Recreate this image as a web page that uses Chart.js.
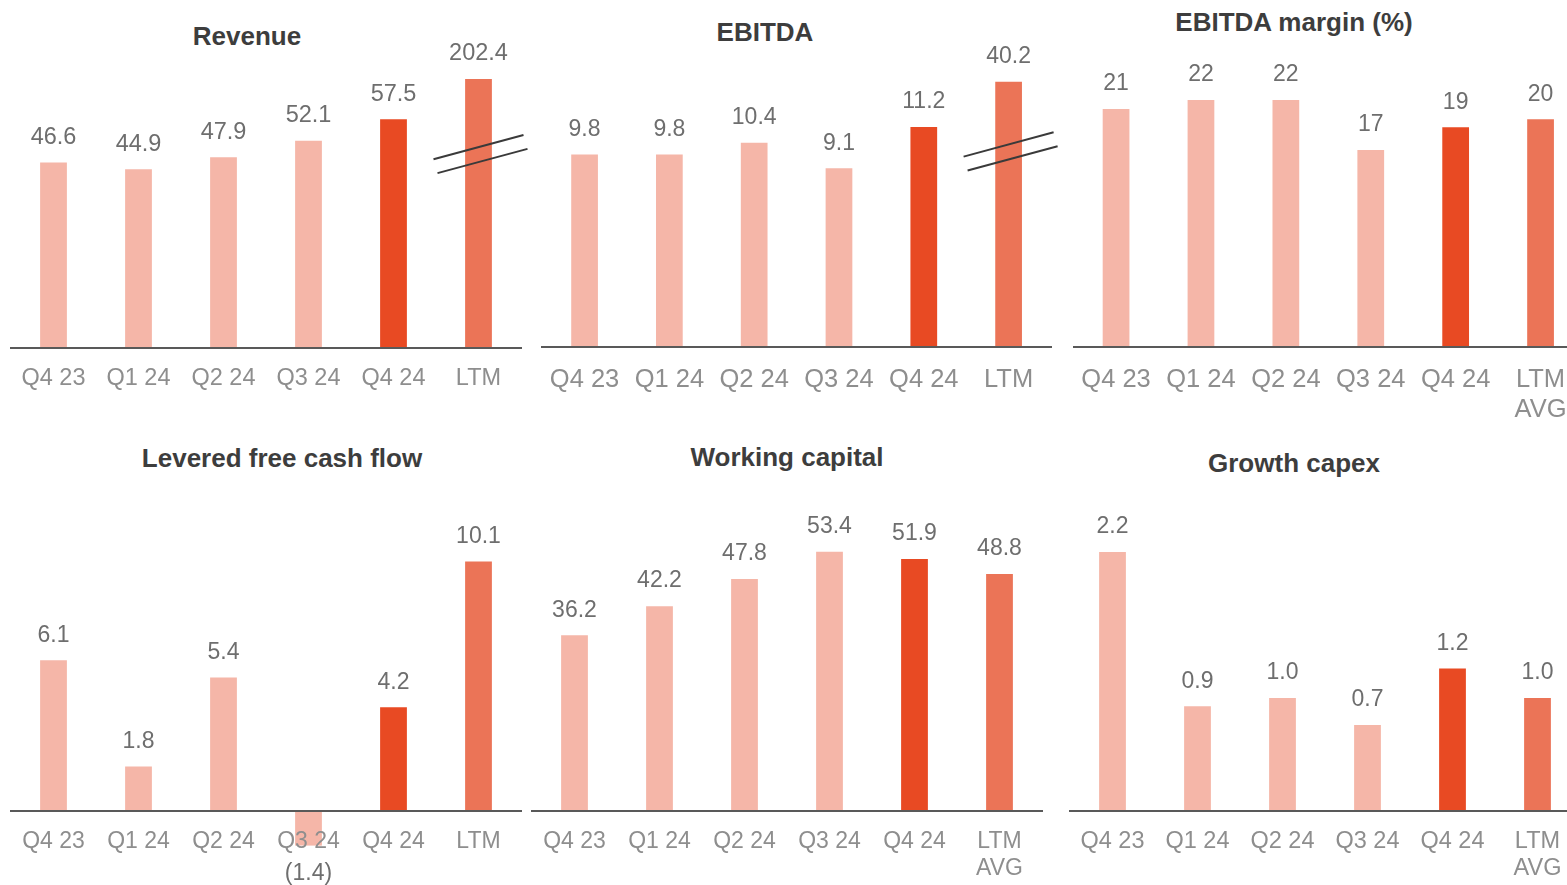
<!DOCTYPE html>
<html>
<head>
<meta charset="utf-8">
<title>Quarterly KPIs</title>
<script src="https://cdn.jsdelivr.net/npm/chart.js@4.4.1/dist/chart.umd.min.js"></script>
<style>
  html, body { margin: 0; padding: 0; width: 1567px; height: 885px; overflow: hidden; background: #fff; }
  canvas { position: absolute; }
  .title {
    position: absolute;
    transform: translate(-50%, -50%);
    font: bold 26px "Liberation Sans", Arial, sans-serif;
    line-height: 1;
    color: #3d3d3d;
    white-space: nowrap;
  }
</style>
</head>
<body>
<script>
// ---- data ----
const quarters = ["Q4 23", "Q1 24", "Q2 24", "Q3 24", "Q4 24", "LTM"];
const quartersAvg = ["Q4 23", "Q1 24", "Q2 24", "Q3 24", "Q4 24", ["LTM", "AVG"]];

const revenue = [46.6, 44.9, 47.9, 52.1, 57.5, 202.4];
const ebitda = [9.8, 9.8, 10.4, 9.1, 11.2, 40.2];
const ebitdaMargin = [21.0, 21.8, 21.8, 17.4, 19.4, 20.1];
const leveredFcf = [6.1, 1.8, 5.4, -1.4, 4.2, 10.1];
const workingCapital = [36.2, 42.2, 47.8, 53.4, 51.9, 48.8];
const growthCapex = [2.2, 0.89, 0.96, 0.73, 1.21, 0.96];

// ---- styles ----
const FONT = '"Liberation Sans", Arial, sans-serif';
const barColors = ["#F5B6A8", "#F5B6A8", "#F5B6A8", "#F5B6A8", "#E84A23", "#EB7457"];

const oneDecimal = (v) => (v < 0 ? "(" + Math.abs(v).toFixed(1) + ")" : v.toFixed(1));
const noDecimal = (v) => v.toFixed(0);

// value labels above bars + optional axis-break marks
const barLabelsPlugin = {
  id: "barLabels",
  afterDraw(chart, args, opts) {
    const ctx = chart.ctx;
    const meta = chart.getDatasetMeta(0);
    ctx.save();
    ctx.font = opts.fontSize + "px " + FONT;
    ctx.fillStyle = "#6e6e6e";
    ctx.textAlign = "center";
    ctx.textBaseline = "middle";
    meta.data.forEach((bar, i) => {
      const v = opts.values[i];
      const y = v < 0 ? bar.y + 28 : bar.y - 25;
      ctx.fillText(opts.format(v), bar.x, y);
    });

    if (opts.breakIndex !== undefined) {
      const bar = meta.data[opts.breakIndex];
      const cy = chart.scales.y.getPixelForValue(opts.breakAt);
      const slope = 0.27;
      ctx.strokeStyle = "#3a3a3a";
      ctx.lineWidth = 2;
      ctx.beginPath();
      ctx.moveTo(bar.x - 45, cy - 7.5 + 45 * slope);
      ctx.lineTo(bar.x + 45, cy - 7.5 - 45 * slope);
      ctx.moveTo(bar.x - 41, cy + 7.5 + 41 * slope);
      ctx.lineTo(bar.x + 49, cy + 7.5 - 49 * slope);
      ctx.stroke();
    }
    ctx.restore();
  },
};

const panels = [
  {
    title: "Revenue", titleX: 247, titleY: 36,
    labels: quarters, values: revenue, format: oneDecimal, cap: 67.6, breakAt: 48.6,
    left: 11, top: 0, baseline: 348, areaTop: 40, yMin: 0, yMax: 77.39,
    tickSize: 23.5, tickPad: 17, lineH: 1.18, valueSize: 23.5,
  },
  {
    title: "EBITDA", titleX: 765, titleY: 32,
    labels: quarters, values: ebitda, format: oneDecimal, cap: 13.5, breakAt: 9.93,
    left: 541, top: 0, baseline: 347, areaTop: 40, yMin: 0, yMax: 15.63,
    tickSize: 25.5, tickPad: 18, lineH: 1.18, valueSize: 23,
  },
  {
    title: "EBITDA margin (%)", titleX: 1294, titleY: 22,
    labels: quartersAvg, values: ebitdaMargin, format: noDecimal,
    left: 1073, top: 0, baseline: 347, areaTop: 40, yMin: 0, yMax: 27.1,
    tickSize: 25.5, tickPad: 17.5, lineH: 1.2, valueSize: 23,
  },
  {
    title: "Levered free cash flow", titleX: 282, titleY: 458,
    labels: quarters, values: leveredFcf, format: oneDecimal,
    left: 11, top: 430, baseline: 811, areaTop: 500, yMin: 0, yMax: 12.59,
    tickSize: 23, tickPad: 17, lineH: 1.19, valueSize: 23,
  },
  {
    title: "Working capital", titleX: 787, titleY: 457,
    labels: quartersAvg, values: workingCapital, format: oneDecimal,
    left: 532, top: 430, baseline: 811, areaTop: 500, yMin: 0, yMax: 64.06,
    tickSize: 23, tickPad: 17, lineH: 1.19, valueSize: 23,
  },
  {
    title: "Growth capex", titleX: 1294, titleY: 463,
    labels: quartersAvg, values: growthCapex, format: oneDecimal,
    left: 1070, top: 430, baseline: 811, areaTop: 500, yMin: 0, yMax: 2.642,
    tickSize: 23.5, tickPad: 16.5, lineH: 1.17, valueSize: 23,
  },
];

panels.forEach((p) => {
  const title = document.createElement("div");
  title.className = "title";
  title.textContent = p.title;
  title.style.left = p.titleX + "px";
  title.style.top = p.titleY + "px";
  document.body.appendChild(title);

  const pad = 10;
  const axisH = p.top === 0 ? 80 : 885 - p.baseline;
  const canvas = document.createElement("canvas");
  canvas.width = 510 + pad * 2;
  canvas.height = p.baseline - p.top + axisH;
  canvas.style.left = p.left - pad + "px";
  canvas.style.top = p.top + "px";
  document.body.appendChild(canvas);

  const cap = p.cap !== undefined ? p.cap : Infinity;
  const plotted = p.values.map((v) => Math.min(v, cap));
  const breakIndex = p.cap !== undefined ? p.values.findIndex((v) => v > cap) : undefined;

  new Chart(canvas.getContext("2d"), {
    type: "bar",
    data: {
      labels: p.labels,
      datasets: [
        {
          data: plotted,
          backgroundColor: barColors,
          borderWidth: 0,
          barPercentage: 0.315,
          categoryPercentage: 1,
          clip: false,
        },
      ],
    },
    options: {
      responsive: false,
      animation: false,
      events: [],
      layout: { padding: { left: pad, right: pad, top: p.areaTop - p.top, bottom: 0 } },
      plugins: {
        legend: { display: false },
        tooltip: { enabled: false },
        barLabels: {
          values: p.values,
          format: p.format,
          fontSize: p.valueSize,
          breakIndex: breakIndex,
          breakAt: p.breakAt,
        },
      },
      scales: {
        x: {
          grid: { display: false, drawTicks: false },
          border: { display: true, color: "#595959", width: 2, z: 1 },
          ticks: {
            z: 1,
            color: "#8e8e8e",
            font: { family: FONT, size: p.tickSize, lineHeight: p.lineH },
            padding: p.tickPad,
            maxRotation: 0,
            autoSkip: false,
          },
          afterFit: (scale) => {
            scale.height = axisH;
          },
        },
        y: { display: false, min: p.yMin, max: p.yMax },
      },
    },
    plugins: [barLabelsPlugin],
  });
});
</script>
</body>
</html>
